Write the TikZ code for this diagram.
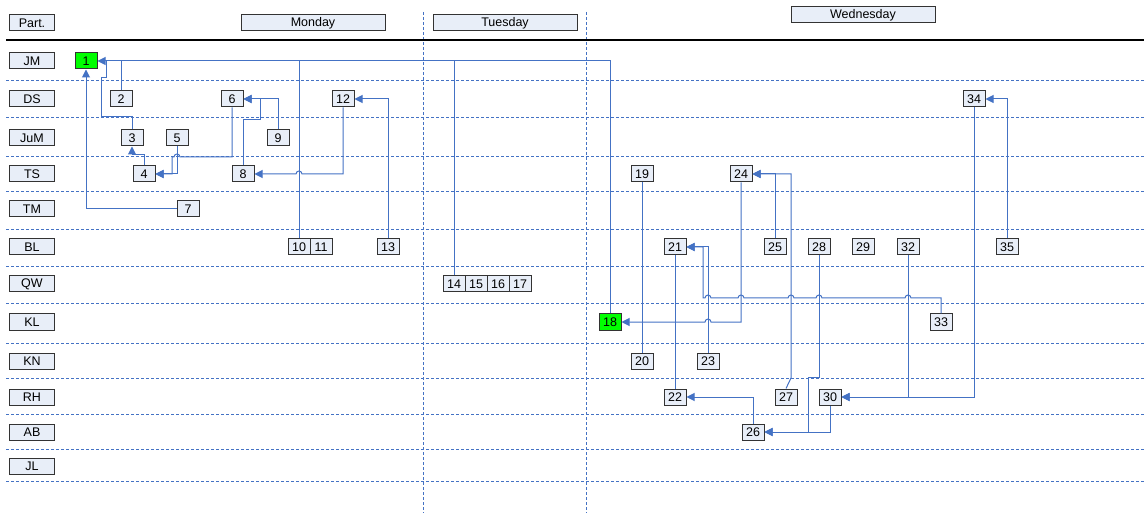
\documentclass[tikz,border=0pt]{standalone}
\usepackage{fontspec}
\setmainfont{Liberation Sans}
\usetikzlibrary{arrows.meta}
\definecolor{lineblue}{RGB}{68,114,196}
\definecolor{boxfill}{RGB}{232,238,248}
\definecolor{done}{RGB}{0,255,0}
\tikzset{
  task/.style={draw=black!80,fill=boxfill,line width=1pt,minimum width=22pt,
    minimum height=16pt,inner sep=0pt,font=\fontsize{12.5}{12.5}\selectfont},
  part/.style={task,minimum width=45pt},
  day/.style={task,minimum width=144pt},
  conn/.style={draw=lineblue,line width=1pt},
  arr/.style={conn,-{Triangle[length=8pt,width=8pt]}},
  lane/.style={lineblue,line width=0.9pt,dash pattern=on 3pt off 2pt},
}
% small jump over a crossing line, drawn right to left
\newcommand{\hop}[2]{-- (#1+3,#2) arc[start angle=0,end angle=180,radius=3pt]}
\begin{document}
\begin{tikzpicture}[x=1pt,y=-1pt]
  \useasboundingbox (0,0) rectangle (1144,513);
  % grid
  \foreach \yy in {80,117,156,191,229,266,303,343,378,414,449,481}
    \draw[lane] (6,\yy) -- (1144,\yy);
  \draw[lane] (423,12) -- (423,513);
  \draw[lane] (586,12) -- (586,513);
  \draw[line width=1.3pt] (6,40) -- (1144,40);
  % header
  \node[part] (hpart) at (32,23) {Part.};
  \node[day] (mon) at (313,23) {Monday};
  \node[day] (tue) at (505,23) {Tuesday};
  \node[day] (wed) at (863,15) {Wednesday};
  \foreach \nm/\yy in {JM/61,DS/99,JuM/138,TS/174,TM/209,BL/247,QW/284,KL/322,KN/361,RH/397,AB/432,JL/466}
    \node[part] (p\nm) at (32,\yy) {\nm};
  % tasks
  \node[task,fill=done] (t1) at (86,61) {1};
  \node[task,fill=done] (t18) at (610,322) {18};
  \foreach \n/\xx/\yy in {2/121/99,3/132/138,4/144/174,5/177/138,6/232/99,7/188/209,
      8/243/174,9/278/138,10/299/247,11/321/247,12/343/99,13/388/247,14/454/284,
      15/476/284,16/498/284,17/520/284,19/642/174,20/642/361,21/675/247,22/675/397,
      23/708/361,24/741/174,25/775/247,26/753/432,27/786/397,28/819/247,29/863/247,
      30/830/397,32/908/247,33/941/322,34/974/99,35/1007/247}
    \node[task] (t\n) at (\xx,\yy) {\n};
  % Monday / Tuesday links
  \draw[arr] (t18.north) |- (t1.east);
  \draw[conn] (t10.north) -- (t10.north |- t1.east);
  \draw[conn] (t14.north) -- (t14.north |- t1.east);
  \draw[conn] (t2.north) -- (t2.north |- t1.east);
  \draw[conn] (t3.north) |- (101,117) |- (106,78) -- (106,61);
  \draw[arr] (t7.west) -| (t1.south);
  \draw[arr] (t4.north) -- (144,155) -| (t3.south);
  \draw[arr] (t5.south) |- (t4.east);
  \draw[arr] (t6.south) |- (183,157) \hop{177}{157} -- (172,157) |- (t4.east);
  \draw[arr] (t9.north) |- (t6.east);
  \draw[arr] (t8.north) |- (260,120) |- (t6.east);
  \draw[arr] (t12.south) |- (305,174) \hop{299}{174} -- (t8.east);
  \draw[arr] (t13.north) |- (t12.east);
  % Wednesday links
  \draw[conn] (t19.south) -- (t20.north);
  \draw[conn] (t21.south) -- (t22.north);
  \draw[arr] (t24.south) |- (714,322) \hop{708}{322} -- (t18.east);
  \draw[arr] (t23.north) |- (t21.east);
  \draw[arr] (t33.north) |- (914,298) \hop{908}{298} \hop{819}{298} \hop{791}{298}
    \hop{741}{298} \hop{708}{298} -- (703,298) |- (t21.east);
  \draw[arr] (t25.north) |- (t24.east);
  \draw[arr] (t27.north) -- (791,378) |- (t24.east);
  \draw[arr] (t28.south) |- (808,377) |- (t26.east);
  \draw[arr] (t30.south) |- (t26.east);
  \draw[arr] (t26.north) |- (t22.east);
  \draw[arr] (t32.south) |- (t30.east);
  \draw[arr] (t34.south) |- (t30.east);
  \draw[arr] (t35.north) |- (t34.east);
\end{tikzpicture}
\end{document}
